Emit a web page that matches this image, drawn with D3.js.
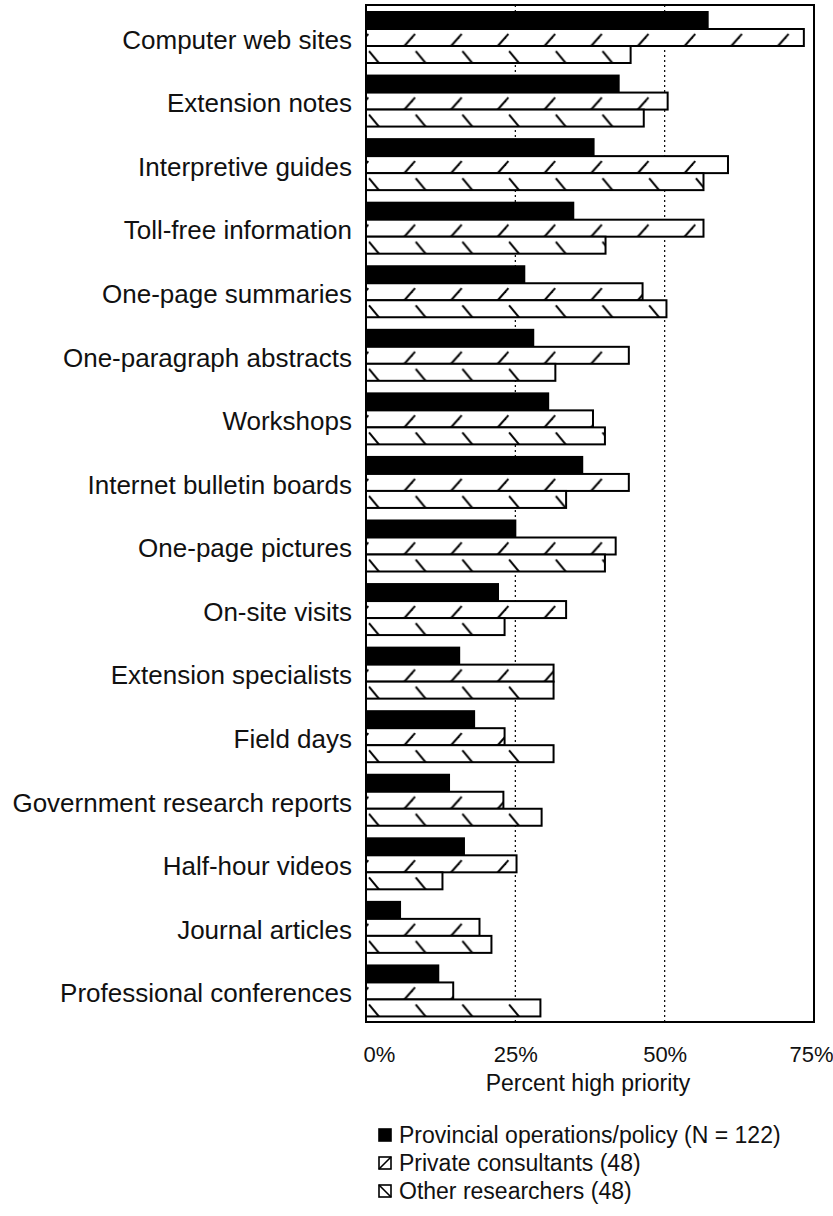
<!DOCTYPE html>
<html><head><meta charset="utf-8">
<script src="https://cdn.jsdelivr.net/npm/d3@7"></script>
<style>
body{margin:0;background:#fff}
svg{display:block;font-family:"Liberation Sans",Arial,Helvetica,sans-serif}
</style>
</head><body>
<svg id="c" width="833" height="1216"></svg>
<script>
const categories = ["Computer web sites","Extension notes","Interpretive guides","Toll-free information","One-page summaries","One-paragraph abstracts","Workshops","Internet bulletin boards","One-page pictures","On-site visits","Extension specialists","Field days","Government research reports","Half-hour videos","Journal articles","Professional conferences"];
const provincial  = [57.2, 42.3, 38.1, 34.7, 26.5, 28.0, 30.5, 36.2, 25.0, 22.1, 15.6, 18.1, 13.9, 16.4, 5.7, 12.1];
const privateCons = [73.3, 50.5, 60.6, 56.5, 46.3, 44.0, 38.0, 44.0, 41.8, 33.5, 31.4, 23.2, 23.0, 25.2, 19.0, 14.6];
const otherRes    = [44.3, 46.5, 56.5, 40.1, 50.3, 31.7, 40.0, 33.5, 40.0, 23.2, 31.4, 31.4, 29.4, 12.8, 21.0, 29.2];
const seriesNames = ["Provincial operations/policy (N = 122)","Private consultants (48)","Other researchers (48)"];
const tickValues = [0, 25, 50, 75];
const tickLabels = ["0%","25%","50%","75%"];
const axisTitle = "Percent high priority";

const svg = d3.select("#c");
const L = 366, R = 814, T = 5, B = 1022;
const x = d3.scaleLinear().domain([0, 75]).range([L, R]);
const y0 = d3.scaleBand().domain(categories).range([T, B]);
const keys = ["prov", "priv", "oth"];
const y1 = d3.scaleBand().domain(keys).range([7, 58]);
const step = y0.step(), bh = y1.bandwidth();
const W = 46.7;

const rows = categories.map((c, i) => ({cat: c, prov: provincial[i], priv: privateCons[i], oth: otherRes[i]}));

// patterns
const defs = svg.append("defs");
function hatch(id, key, bx, dx) {
  const p = defs.append("pattern").attr("id", id).attr("patternUnits", "userSpaceOnUse")
    .attr("x", L).attr("y", T).attr("width", W).attr("height", step);
  p.append("rect").attr("width", W).attr("height", step).attr("fill", "#fff");
  const yt = y1(key), yb = y1(key) + bh;
  [0, -W, W].forEach(o => {
    if (dx > 0) {
      p.append("line").attr("x1", bx + o).attr("y1", yb).attr("x2", bx + dx + o).attr("y2", yt)
        .attr("stroke", "#000").attr("stroke-width", 2);
    } else {
      p.append("line").attr("x1", bx + o).attr("y1", yt).attr("x2", bx - dx + o).attr("y2", yb)
        .attr("stroke", "#000").attr("stroke-width", 2);
    }
  });
}
hatch("hp", "priv", 34, 15);
hatch("ho", "oth", 3, -14);

// gridlines
svg.append("g").selectAll("line").data([25, 50]).join("line")
  .attr("x1", d => x(d)).attr("x2", d => x(d)).attr("y1", T).attr("y2", B)
  .attr("stroke", "#000").attr("stroke-width", 1.2).attr("stroke-dasharray", "2,3");

// bars
const fills = {prov: "#000", priv: "url(#hp)", oth: "url(#ho)"};
const g = svg.append("g").selectAll("g").data(rows).join("g")
  .attr("transform", d => `translate(0,${y0(d.cat)})`);
g.selectAll("rect").data(d => keys.map(k => ({k, v: d[k]}))).join("rect")
  .attr("x", L).attr("y", d => y1(d.k)).attr("width", d => x(d.v) - L).attr("height", bh)
  .attr("fill", d => fills[d.k]).attr("stroke", "#000").attr("stroke-width", 2);

// frame
svg.append("rect").attr("x", L).attr("y", T).attr("width", R - L).attr("height", B - T)
  .attr("fill", "none").attr("stroke", "#000").attr("stroke-width", 2);

// y axis labels
const ya = svg.append("g").attr("transform", `translate(${L},0)`)
  .call(d3.axisLeft(y0).tickSize(0).tickPadding(14));
ya.select(".domain").remove();
ya.selectAll("text").attr("font-size", 26).attr("fill", "#111").attr("dy", "0.46em")
  .attr("font-family", "Liberation Sans, Arial, sans-serif");

// x axis
const xa = svg.append("g").attr("transform", `translate(0,${B})`)
  .call(d3.axisBottom(x).tickValues(tickValues).tickSize(0).tickPadding(24)
    .tickFormat((d, i) => tickLabels[i]));
xa.select(".domain").remove();
xa.selectAll("text").attr("font-size", 22).attr("fill", "#111")
  .attr("font-family", "Liberation Sans, Arial, sans-serif");
xa.selectAll(".tick").filter(d => d === 0).select("text").attr("text-anchor", "start").attr("x", -3);
xa.selectAll(".tick").filter(d => d === 75).select("text").attr("text-anchor", "end").attr("x", 19);

svg.append("text").attr("x", (L + R) / 2 - 2).attr("y", 1091).attr("text-anchor", "middle")
  .attr("font-size", 23).attr("fill", "#111").text(axisTitle);

// legend
const lg = svg.append("g").selectAll("g").data(seriesNames).join("g")
  .attr("transform", (d, i) => `translate(379,${1143 + i * 28})`);
lg.append("rect").attr("x", 0).attr("y", -14).attr("width", 12).attr("height", 12)
  .attr("fill", (d, i) => i === 0 ? "#000" : "#fff").attr("stroke", "#000").attr("stroke-width", 1.6);
lg.filter((d, i) => i === 1).append("line").attr("x1", 0).attr("y1", -2).attr("x2", 12).attr("y2", -14)
  .attr("stroke", "#000").attr("stroke-width", 1.6);
lg.filter((d, i) => i === 2).append("line").attr("x1", 0).attr("y1", -14).attr("x2", 12).attr("y2", -2)
  .attr("stroke", "#000").attr("stroke-width", 1.6);
lg.append("text").attr("x", 20).attr("y", 0).attr("font-size", 23).attr("fill", "#111").text(d => d);
</script>
</body></html>
